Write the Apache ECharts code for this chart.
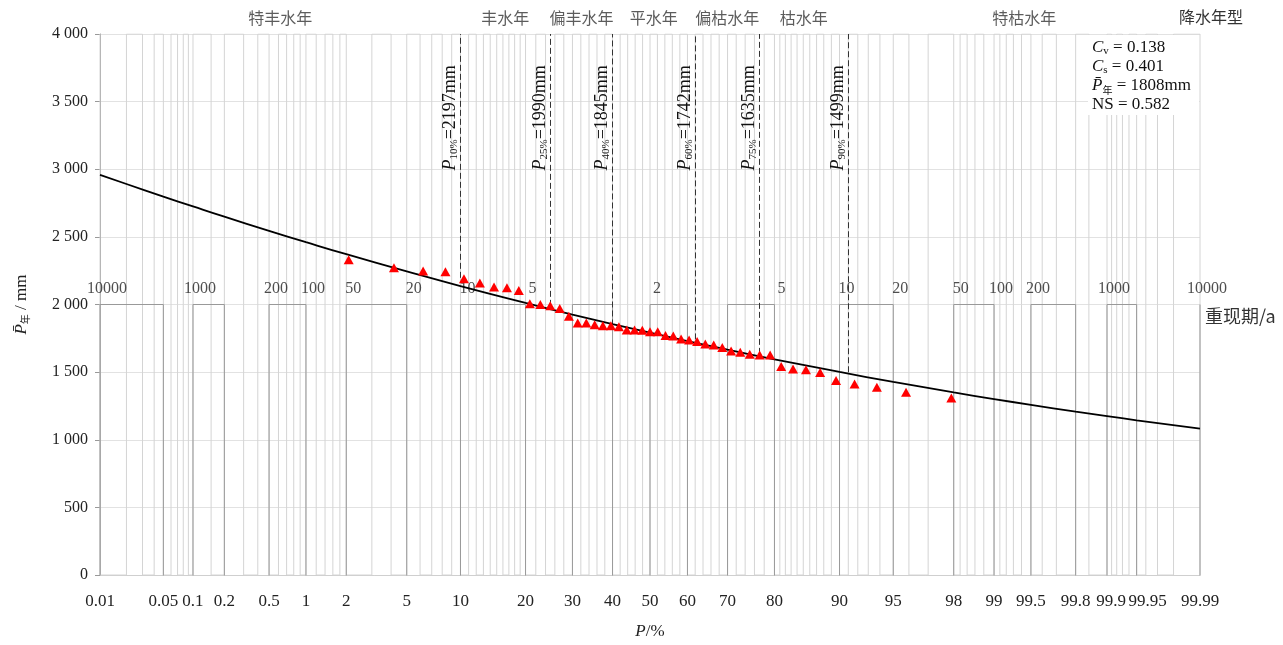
<!DOCTYPE html>
<html>
<head>
<meta charset="utf-8">
<title>年降水量频率曲线</title>
<script src="https://cdn.jsdelivr.net/npm/echarts@6/dist/echarts.min.js"></script>
<style>
  html, body { margin: 0; padding: 0; background: #fff; }
  #main { width: 1283px; height: 645px; }
</style>
</head>
<body>
<div id="main"></div>
<script>
// 频率格纸的细网格线 (P/%)
const gridP = [0.01, 0.02, 0.03, 0.04, 0.05, 0.06, 0.07, 0.08, 0.09, 0.1, 0.15, 0.2, 0.3, 0.4, 0.5, 0.6, 0.7, 0.8, 0.9, 1,
  1.2, 1.4, 1.6, 1.8, 2, 3, 4, 5, 6, 7, 8, 9, 10, 11, 12, 13, 14, 15, 16, 17, 18, 19, 20,
  22, 24, 26, 28, 30, 32, 34, 36, 38, 40, 42, 44, 46, 48, 50, 52, 54, 56, 58, 60, 62, 64, 66, 68, 70, 72, 74, 76, 78, 80,
  81, 82, 83, 84, 85, 86, 87, 88, 89, 90, 91, 92, 93, 94, 95, 96, 97, 98, 98.2, 98.4, 98.6, 98.8,
  99, 99.1, 99.2, 99.3, 99.4, 99.5, 99.6, 99.7, 99.8, 99.85, 99.9, 99.91, 99.92, 99.93, 99.94, 99.95, 99.96, 99.97, 99.98, 99.99];
// 横轴刻度 (也是重现期框线的位置)
const tickP = [0.01, 0.05, 0.1, 0.2, 0.5, 1, 2, 5, 10, 20, 30, 40, 50, 60, 70, 80, 90, 95, 98, 99, 99.5, 99.8, 99.9, 99.95, 99.99];
// 重现期标注
const rpP = [0.01, 0.1, 0.5, 1, 2, 5, 10, 20, 50, 80, 90, 95, 98, 99, 99.5, 99.9, 99.99];
const rpLabels = ['10000', '1000', '200', '100', '50', '20', '10', '5', '2', '5', '10', '20', '50', '100', '200', '1000', '10000'];
// P-III 理论频率曲线
const curveP = [0.01, 0.02, 0.05, 0.1, 0.2, 0.5, 1, 2, 5, 10, 20, 30, 40, 50, 60, 70, 80, 90, 95, 98, 99, 99.5, 99.8, 99.9, 99.95, 99.99];
const curveV = [2959, 2891, 2798, 2725, 2649, 2545, 2461, 2372, 2245, 2136, 2012, 1926, 1855, 1792, 1730, 1666, 1595, 1501, 1428, 1350, 1301, 1258, 1208, 1175, 1144, 1082];
// 经验频率点
const obsP = [2.08, 4.17, 6.25, 8.33, 10.42, 12.5, 14.58, 16.67, 18.75, 20.83, 22.92, 25, 27.08, 29.17, 31.25, 33.33,
  35.42, 37.5, 39.58, 41.67, 43.75, 45.83, 47.92, 50, 52.08, 54.17, 56.25, 58.33, 60.42, 62.5, 64.58, 66.67,
  68.75, 70.83, 72.92, 75, 77.08, 79.17, 81.25, 83.33, 85.42, 87.5, 89.58, 91.67, 93.75, 95.83, 97.92];
const obsV = [2331, 2272, 2248, 2243, 2190, 2159, 2130, 2123, 2103, 2005, 2000, 1990, 1971, 1914, 1863, 1863,
  1851, 1843, 1843, 1836, 1811, 1811, 1809, 1799, 1799, 1770, 1767, 1745, 1738, 1726, 1708, 1701,
  1682, 1657, 1647, 1632, 1627, 1627, 1542, 1524, 1517, 1498, 1439, 1412, 1388, 1351, 1309];
// 降水年型分界线
const dashP = [10, 25, 40, 62, 77, 91];
const dashV = [2197, 1990, 1845, 1742, 1635, 1499];
const dashNames = ['10%', '25%', '40%', '60%', '75%', '90%'];
// 降水年型
const typeBounds = [0.01, 10, 25, 40, 62, 77, 91, 99.99];
const typeNames = ['特丰水年', '丰水年', '偏丰水年', '平水年', '偏枯水年', '枯水年', '特枯水年'];

const SERIF = "'Liberation Serif', 'Times New Roman', serif";
const CJK = "'Noto Sans CJK SC', sans-serif";
const YMAX = 4000, YMID = 2000;

// 正态分布反函数 (Acklam)，频率格纸横坐标用
function normInv(p) {
  const a = [-3.969683028665376e+01, 2.209460984245205e+02, -2.759285104469687e+02, 1.383577518672690e+02, -3.066479806614716e+01, 2.506628277459239e+00];
  const b = [-5.447609879822406e+01, 1.615858368580409e+02, -1.556989798598866e+02, 6.680131188771972e+01, -1.328068155288572e+01];
  const c = [-7.784894002430293e-03, -3.223964580411365e-01, -2.400758277161838e+00, -2.549671348283800e+00, 4.374664141464968e+00, 2.938163982698783e+00];
  const d = [7.784695709041462e-03, 3.224671290700398e-01, 2.445134137142996e+00, 3.754408661907416e+00];
  let q, r;
  if (p < 0.02425) {
    q = Math.sqrt(-2 * Math.log(p));
    return (((((c[0]*q+c[1])*q+c[2])*q+c[3])*q+c[4])*q+c[5]) / ((((d[0]*q+d[1])*q+d[2])*q+d[3])*q+1);
  }
  if (p <= 1 - 0.02425) {
    q = p - 0.5; r = q * q;
    return (((((a[0]*r+a[1])*r+a[2])*r+a[3])*r+a[4])*r+a[5])*q / (((((b[0]*r+b[1])*r+b[2])*r+b[3])*r+b[4])*r+1);
  }
  q = Math.sqrt(-2 * Math.log(1 - p));
  return -(((((c[0]*q+c[1])*q+c[2])*q+c[3])*q+c[4])*q+c[5]) / ((((d[0]*q+d[1])*q+d[2])*q+d[3])*q+1);
}
const zOf = P => normInv(P / 100);
const zMin = zOf(0.01), zMax = zOf(99.99);

// 细网格：在 0 和 4000 之间来回折
const lightGrid = [];
gridP.forEach((p, i) => {
  const z = zOf(p);
  if (i % 2 === 0) { lightGrid.push([z, YMAX], [z, 0]); }
  else { lightGrid.push([z, 0], [z, YMAX]); }
});
// 重现期框线：在 2000 和 0 以下之间来回折
const darkGrid = [];
tickP.forEach((p, i) => {
  const z = zOf(p);
  if (i % 2 === 0) { darkGrid.push([z, -1000], [z, YMID]); }
  else { darkGrid.push([z, YMID], [z, -1000]); }
});

const tickZ = tickP.map(zOf);
function tickLabel(v) {
  let best = 0;
  tickZ.forEach((z, i) => { if (Math.abs(z - v) < Math.abs(tickZ[best] - v)) best = i; });
  const s = String(tickP[best]);
  // 右端挤在一起的两个标签往右挪一点
  if (s === '99.9') return '{a|' + s + '}';
  if (s === '99.95') return '{b|' + s + '}';
  return s;
}

let chart = echarts.init(document.getElementById('main'));
chart.setOption({
  animation: false,
  backgroundColor: '#fff',
  grid: { left: 100, top: 34, width: 1100, height: 544 },
  xAxis: {
    type: 'value', min: zMin, max: zMax,
    name: '{i|P}{n|/%}', nameLocation: 'middle', nameGap: 48,
    nameTextStyle: { rich: {
      i: { fontFamily: SERIF, fontStyle: 'italic', fontSize: 17, color: '#222' },
      n: { fontFamily: SERIF, fontSize: 17, color: '#222' }
    } },
    axisLine: { show: true, onZero: false, lineStyle: { color: '#cfcfcf' } },
    axisTick: { show: false },
    splitLine: { show: false },
    axisLabel: {
      customValues: tickZ, showMinLabel: true, showMaxLabel: true,
      formatter: tickLabel, margin: 18,
      fontFamily: SERIF, fontSize: 17, color: '#222',
      rich: {
        a: { fontFamily: SERIF, fontSize: 17, color: '#222', padding: [0, 0, 0, 8] },
        b: { fontFamily: SERIF, fontSize: 17, color: '#222', padding: [0, 0, 0, 22] }
      }
    }
  },
  yAxis: {
    type: 'value', min: 0, max: YMAX, interval: 500,
    name: '{i|P\u0304}{s|年}{n| / mm}', nameLocation: 'middle', nameGap: 70, nameRotate: 90,
    nameTextStyle: { rich: {
      i: { fontFamily: SERIF, fontStyle: 'italic', fontSize: 17, color: '#222' },
      s: { fontFamily: CJK, fontSize: 10, color: '#222', verticalAlign: 'bottom' },
      n: { fontFamily: SERIF, fontSize: 17, color: '#222' }
    } },
    axisLine: { show: true, onZero: false, lineStyle: { color: '#999' } },
    axisTick: { show: true, length: 5, lineStyle: { color: '#999' } },
    splitLine: { show: true, lineStyle: { color: '#e2e2e2' } },
    axisLabel: {
      margin: 12, fontFamily: SERIF, fontSize: 16, color: '#222',
      formatter: v => v >= 1000 ? Math.floor(v / 1000) + ' ' + String(v % 1000).padStart(3, '0') : String(v)
    }
  },
  series: [
    {
      name: '网格', type: 'line', data: lightGrid, symbol: 'none', silent: true, z: 1,
      lineStyle: { color: '#d4d4d4', width: 1 }
    },
    {
      name: '重现期框', type: 'line', data: darkGrid, symbol: 'none', silent: true, z: 2,
      lineStyle: { color: '#999', width: 1 }
    },
    {
      name: '分界线', type: 'line', data: [], z: 3,
      markLine: {
        silent: true, symbol: 'none', label: { show: false },
        lineStyle: { color: '#333', type: [6, 3], width: 1 },
        data: dashP.map((p, i) => [{ coord: [zOf(p), dashV[i]] }, { coord: [zOf(p), YMAX] }])
      }
    },
    {
      name: '重现期', type: 'scatter', symbolSize: 0, silent: true, z: 4,
      data: rpP.map(p => [zOf(p), YMID]),
      label: {
        show: true, position: 'top', distance: 8, offset: [7, 0],
        formatter: pr => rpLabels[pr.dataIndex],
        fontFamily: SERIF, fontSize: 16, color: '#222'
      }
    },
    {
      name: '降水年型', type: 'scatter', symbolSize: 0, silent: true, z: 4,
      data: typeNames.map((t, i) => [(zOf(typeBounds[i]) + zOf(typeBounds[i + 1])) / 2, YMAX]),
      label: {
        show: true, position: 'top', distance: 8,
        formatter: pr => typeNames[pr.dataIndex],
        fontFamily: CJK, fontSize: 16, color: '#333'
      }
    },
    {
      name: '理论频率曲线', type: 'line', smooth: true, symbol: 'none', z: 5,
      data: curveP.map((p, i) => [zOf(p), curveV[i]]),
      lineStyle: { color: '#000', width: 1.8 }
    },
    {
      name: '经验频率点', type: 'scatter', symbol: 'triangle', symbolSize: [10, 9], z: 6,
      data: obsP.map((p, i) => [zOf(p), obsV[i]]),
      itemStyle: { color: '#ff0000', opacity: 1 }
    }
  ]
});

// 旋转标注、参数框等用像素位置补上
const px = (x, y) => chart.convertToPixel({ gridIndex: 0 }, [x, y]);
const dashRich = {
  i: { fontFamily: SERIF, fontStyle: 'italic', fontSize: 18, fill: '#111' },
  s: { fontFamily: SERIF, fontSize: 11, fill: '#111', verticalAlign: 'bottom' },
  n: { fontFamily: SERIF, fontSize: 18, fill: '#111' }
};
const graphics = dashP.map((p, i) => {
  const pt = px(zOf(p), 3380);
  return {
    type: 'text', x: pt[0] - 1, y: pt[1], rotation: Math.PI / 2, z: 20,
    style: {
      text: '{i|P}{s|' + dashNames[i] + '}{n|=' + dashV[i] + 'mm}',
      rich: dashRich, align: 'center', verticalAlign: 'bottom'
    }
  };
});
const topRight = px(zMax, YMAX);
const midRight = px(zMax, YMID);
graphics.push({
  type: 'rect', z: 15, shape: { x: topRight[0] - 112, y: topRight[1] + 1, width: 111, height: 80 },
  style: { fill: '#fff' }
});
graphics.push({
  type: 'text', z: 16, x: topRight[0] - 108, y: topRight[1] + 4,
  style: {
    text: '{c|C}{v|v}{n| = 0.138}\n{c|C}{v|s}{n| = 0.401}\n{c|P\u0304}{w|年}{n| = 1808mm}\n{n|NS = 0.582}',
    align: 'left', verticalAlign: 'top',
    rich: {
      c: { fontFamily: SERIF, fontStyle: 'italic', fontSize: 17, fill: '#111', lineHeight: 19 },
      v: { fontFamily: SERIF, fontSize: 11, fill: '#111', verticalAlign: 'bottom', lineHeight: 19 },
      w: { fontFamily: CJK, fontSize: 10, fill: '#111', verticalAlign: 'bottom', lineHeight: 19 },
      n: { fontFamily: SERIF, fontSize: 17, fill: '#111', lineHeight: 19 }
    }
  }
});
graphics.push({
  type: 'text', z: 16, x: topRight[0] + 11, y: topRight[1] - 17,
  style: { text: '降水年型', fontFamily: CJK, fontSize: 16, fill: '#333', align: 'center', verticalAlign: 'middle' }
});
graphics.push({
  type: 'text', z: 16, x: midRight[0] + 5, y: midRight[1] + 12,
  style: { text: '重现期/a', fontFamily: CJK, fontSize: 18, fill: '#333', align: 'left', verticalAlign: 'middle' }
});
chart.setOption({ graphic: graphics });
</script>
</body>
</html>
